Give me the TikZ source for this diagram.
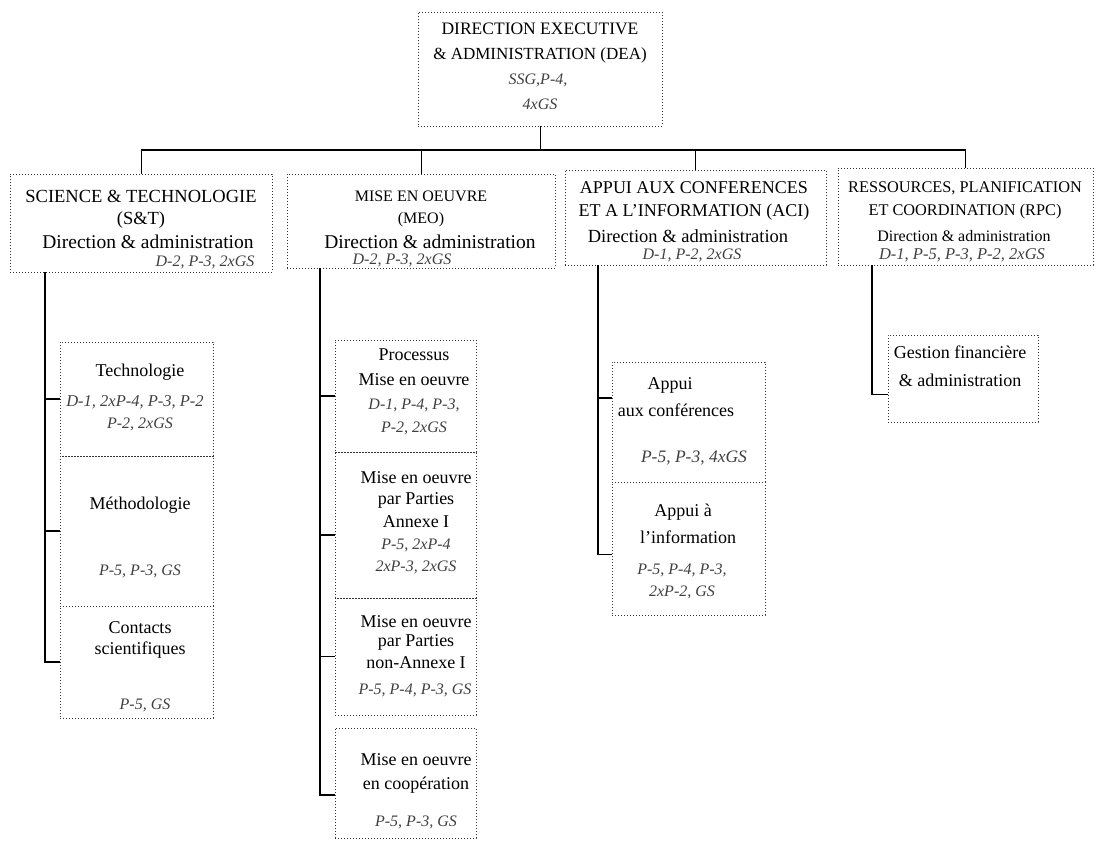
\documentclass[tikz,border=0pt]{standalone}
\usepackage{fontspec}
\setmainfont{Liberation Serif}
\begin{document}
\begin{tikzpicture}[x=1pt,y=-1pt,
  box/.style={draw=black!80, line width=0.8pt, dash pattern=on 1pt off 2pt, inner sep=0pt},
  conn/.style={draw=black, line width=1.2pt},
  drop/.style={draw=black, line width=0.8pt},
  hd/.style={inner sep=0pt, font=\fontsize{17}{20}\selectfont},
  da/.style={inner sep=0pt, font=\fontsize{19.5}{22}\selectfont},
  sub/.style={inner sep=0pt, font=\fontsize{18}{21}\selectfont},
  it/.style={inner sep=0pt, text=black!75, font=\fontsize{16}{19}\selectfont\itshape}]
\useasboundingbox (0,0) rectangle (1096,848);
\fill[white] (0,0) rectangle (1096,848);

% ---- main boxes
\node[box, minimum width=244pt, minimum height=114pt] (dea) at (540,69) {};
\node[box, minimum width=262pt, minimum height=98pt] (st) at (141,223) {};
\node[box, minimum width=268pt, minimum height=94pt] (meo) at (421,221) {};
\node[box, minimum width=261pt, minimum height=95pt] (aci) at (695.5,217.5) {};
\node[box, minimum width=255pt, minimum height=97pt] (rpc) at (965.5,216.5) {};

% ---- sub boxes
\node[box, minimum width=153pt, minimum height=114pt] (tech) at (136.5,399) {};
\node[box, minimum width=153pt, minimum height=150pt] (meth) at (136.5,531) {};
\node[box, minimum width=153pt, minimum height=112pt] (cont) at (136.5,662) {};

\node[box, minimum width=141pt, minimum height=112pt] (proc) at (405.5,396) {};
\node[box, minimum width=141pt, minimum height=146pt] (ann) at (405.5,525) {};
\node[box, minimum width=141pt, minimum height=117pt] (nann) at (405.5,656.5) {};
\node[box, minimum width=141pt, minimum height=110pt] (coop) at (405.5,783) {};

\node[box, minimum width=153pt, minimum height=120pt] (conf) at (688.5,422) {};
\node[box, minimum width=153pt, minimum height=133pt] (info) at (688.5,548.5) {};

\node[box, minimum width=150pt, minimum height=87pt] (gest) at (963,378.5) {};

% ---- texts
\node[hd, font=\fontsize{17.5}{20}\selectfont] (t1) at (540,29) {DIRECTION EXECUTIVE};
\node[hd] (t2) at (540,55) {\& ADMINISTRATION (DEA)};
\node[it] (t3) at (538,80) {SSG,P-4,};
\node[it] (t4) at (540,104) {4xGS};

\node[hd, font=\fontsize{18.5}{20}\selectfont] (s1) at (141,196) {SCIENCE \& TECHNOLOGIE};
\node[hd, font=\fontsize{18.5}{20}\selectfont] (s2) at (141,220) {(S\&T)};
\node[da] (s3) at (148,242) {Direction \& administration};
\node[it] (s4) at (205,262) {D-2, P-3, 2xGS};

\node[hd, font=\fontsize{16}{20}\selectfont] (m1) at (421,196) {MISE EN OEUVRE};
\node[hd, font=\fontsize{16}{20}\selectfont] (m2) at (421,220) {(MEO)};
\node[da] (m3) at (430,242) {Direction \& administration};
\node[it] (m4) at (402,260) {D-2, P-3, 2xGS};

\node[hd, font=\fontsize{18}{20}\selectfont] (a1) at (694,188) {APPUI AUX CONFERENCES};
\node[hd, font=\fontsize{18}{20}\selectfont] (a2) at (694,212) {ET A L'INFORMATION (ACI)};
\node[da, font=\fontsize{18.5}{22}\selectfont] (a3) at (688,236) {Direction \& administration};
\node[it] (a4) at (692,255) {D-1, P-2, 2xGS};

\node[hd, font=\fontsize{16.3}{20}\selectfont] (r1) at (965,188) {RESSOURCES, PLANIFICATION};
\node[hd, font=\fontsize{16.3}{20}\selectfont] (r2) at (965,212) {ET COORDINATION (RPC)};
\node[da, font=\fontsize{16}{18}\selectfont] (r3) at (964,236) {Direction \& administration};
\node[it, font=\fontsize{16.5}{19}\selectfont\itshape] (r4) at (962,255) {D-1, P-5, P-3, P-2, 2xGS};

\node[sub] (x1) at (140,372) {Technologie};
\node[it, font=\fontsize{16.5}{19}\selectfont\itshape] (x2) at (135,402) {D-1, 2xP-4, P-3, P-2};
\node[it] (x3) at (140,424) {P-2, 2xGS};
\node[sub] (x4) at (140,505) {Méthodologie};
\node[it] (x5) at (140,571) {P-5, P-3, GS};
\node[sub] (x6) at (140,628) {Contacts};
\node[sub] (x7) at (140,650) {scientifiques};
\node[it] (x8) at (145,705) {P-5, GS};

\node[sub] (p1) at (414,355) {Processus};
\node[sub] (p2) at (414,380) {Mise en oeuvre};
\node[it] (p3) at (414,405) {D-1, P-4, P-3,};
\node[it] (p4) at (414,428) {P-2, 2xGS};
\node[sub] (p5) at (416,478) {Mise en oeuvre};
\node[sub] (p6) at (416,500) {par Parties};
\node[sub] (p7) at (416,522) {Annexe I};
\node[it] (p8) at (416,545) {P-5, 2xP-4};
\node[it] (p9) at (416,567) {2xP-3, 2xGS};
\node[sub] (p10) at (416,622) {Mise en oeuvre};
\node[sub] (p11) at (416,642) {par Parties};
\node[sub] (p12) at (416,663) {non-Annexe I};
\node[it] (p13) at (415,690) {P-5, P-4, P-3, GS};
\node[sub] (p14) at (416,760) {Mise en oeuvre};
\node[sub] (p15) at (416,785) {en coopération};
\node[it] (p16) at (416,822) {P-5, P-3, GS};

\node[sub] (c1) at (670,385) {Appui};
\node[sub] (c2) at (676,410) {aux conférences};
\node[it, font=\fontsize{17.5}{19}\selectfont\itshape] (c3) at (694,458) {P-5, P-3, 4xGS};
\node[sub] (c4) at (683,512) {Appui à};
\node[sub] (c5) at (688,537) {l'information};
\node[it] (c6) at (682,570) {P-5, P-4, P-3,};
\node[it] (c7) at (682,592) {2xP-2, GS};

\node[sub] (g1) at (960,352) {Gestion financière};
\node[sub] (g2) at (960,380) {\& administration};

% ---- connectors
\coordinate (bus) at (0,150);
\draw[drop] (dea.south) -- (dea.south |- bus);
\draw[conn] (st.north |- bus) -- (rpc.north |- bus);
\draw[drop] (st.north |- bus) -- (st.north);
\draw[drop] (rpc.north |- bus) -- (rpc.north);
\draw[drop] (meo.north |- bus) -- (meo.north);
\draw[drop] (aci.north |- bus) -- (aci.north);

\coordinate (stv) at (45,0);
\draw[conn] (st.south -| stv) |- (cont.west);
\draw[conn] (stv |- tech.west) -- (tech.west);
\draw[conn] (stv |- meth.west) -- (meth.west);

\coordinate (mev) at (320,0);
\draw[conn] (meo.south -| mev) |- ([yshift=-12pt]coop.west);
\draw[conn] (mev |- proc.west) -- (proc.west);
\draw[conn] (mev |- ann.west) ++(0,10) -- ([yshift=-10pt]ann.west);
\draw[conn] (mev |- nann.west) -- (nann.west);

\coordinate (acv) at (598,0);
\draw[conn] (aci.south -| acv) |- ([yshift=-6pt]info.west);
\draw[conn] (acv |- conf.west) ++(0,-24) -- ([yshift=24pt]conf.west);

\coordinate (rpv) at (872,0);
\draw[conn] (rpc.south -| rpv) |- ([yshift=-16pt]gest.west);
\end{tikzpicture}
\end{document}
